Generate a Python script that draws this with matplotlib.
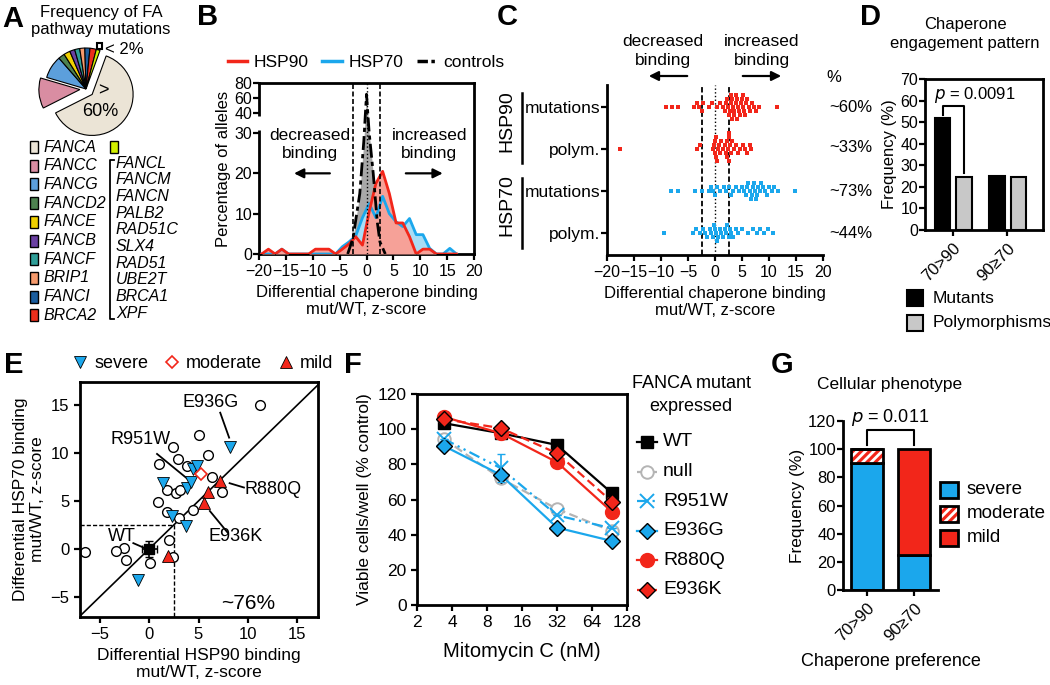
import numpy as np
import matplotlib
matplotlib.use('Agg')
import matplotlib.pyplot as plt
from matplotlib.patches import Rectangle
from matplotlib.lines import Line2D
from matplotlib.ticker import LogLocator, NullFormatter

plt.rcParams['font.family'] = ['Liberation Sans', 'DejaVu Sans']
plt.rcParams['font.size'] = 11
plt.rcParams['axes.linewidth'] = 2
for a in ('xtick', 'ytick'):
    plt.rcParams[a + '.major.width'] = 1.6
    plt.rcParams[a + '.major.size'] = 4
    plt.rcParams[a + '.labelsize'] = 11.5
plt.rcParams['hatch.linewidth'] = 2.0

# ---------------- data ----------------
# A: pie of FA pathway mutations
a_genes = ['FANCA', 'FANCC', 'FANCG', 'FANCD2', 'FANCE', 'FANCB', 'FANCF', 'BRIP1', 'FANCI', 'BRCA2', 'other']
a_freq = [62, 12, 9, 2.5, 2.5, 2, 2, 2, 2, 2.5, 1.5]
a_colors = ['#ebe4d6', '#d98da2', '#5c9fdc', '#4d8250', '#f0d000', '#6a40a2',
            '#2f9e98', '#f59a6c', '#1a5d9e', '#ec2f1c', '#d2f000']
a_rare = ['FANCL', 'FANCM', 'FANCN', 'PALB2', 'RAD51C', 'SLX4', 'RAD51', 'UBE2T', 'BRCA1', 'XPF']

# B: distribution of differential binding
b_x = [-19.5, -18.25, -17, -15.75, -14.5, -13.25, -12, -10.75, -9.5, -8.25, -7, -5.75, -4.5,
       -3.25, -2, -0.75, 0.5, 1.75, 3, 4.25, 5.5, 6.75, 8, 9.25, 10.5, 11.75, 13, 14.25, 15.5, 16.75]
b_hsp90 = [0, 1.2, 0, 1.2, 0, 0, 0, 0, 1.2, 1.2, 1.2, 0, 1.2,
           2.5, 4.3, 2.2, 10.5, 17.5, 20.5, 15, 7.7, 7.7, 4.3, 0, 1.2, 1.2, 0, 0, 0, 0]
b_hsp70 = [0, 0, 0, 1.2, 0, 0, 0, 0, 0, 0, 0, 0, 1.8,
           3, 4.5, 9, 12.5, 9, 14.3, 10, 8, 6.8, 8.8, 4.8, 4.8, 1.4, 0, 0, 1.4, 0]
b_ctrl_x = [-3.5, -2.5, -1.25, -0.5, 0, 0.5, 1.25, 2, 2.5, 3.5]
b_ctrl = [0, 4, 15, 28, 65, 30, 20, 8, 3, 0]

# C: per-allele z-scores
c_rows = ['mutations', 'polym.', 'mutations', 'polym.']
c_h90_mut = [-9.1, -8.0, -6.9, -3.8, -3.3, -2.9, -2.5, -2.2, -1.2, -0.5, 0.3, 1.0, 1.5, 1.8, 2.0,
             2.2, 2.4, 2.6, 2.7, 2.9, 3.0, 3.1, 3.2, 3.3, 3.5, 3.6, 3.8, 3.9, 4.0, 4.1, 4.3, 4.5,
             4.6, 4.8, 5.0, 5.1, 5.2, 5.4, 5.6, 5.8, 6.0, 6.3, 6.5, 6.8, 7.2, 7.6, 8.2, 11.5]
c_h90_pol = [-17.6, -3.4, -2.7, -0.4, -0.2, 0.0, 0.0, 0.1, 0.2, 0.3, 0.5, 0.8, 1.0, 1.2, 1.5, 1.8,
             2.0, 2.2, 2.3, 2.4, 2.5, 2.5, 2.6, 2.7, 2.9, 3.2, 3.5, 3.9, 4.3, 4.7, 5.2, 5.6, 6.0, 6.4, 6.6]
c_h70_mut = [-8.1, -6.8, -3.7, -2.5, -1.2, -0.7, -0.3, 0.0, 0.4, 0.9, 1.6, 2.1, 2.5, 2.9, 3.4, 3.9,
             4.5, 5.0, 5.4, 5.8, 6.0, 6.2, 6.4, 6.6, 6.8, 7.0, 7.2, 7.4, 7.6, 7.8, 8.0, 8.3, 8.6,
             8.9, 9.2, 9.6, 10.0, 10.5, 11.0, 11.7, 14.8]
c_h70_pol = [-9.5, -4.0, -3.5, -2.8, -2.2, -1.8, -1.4, -1.0, -0.7, -0.4, -0.2, 0.0, 0.2, 0.4, 0.6,
             0.9, 1.2, 1.5, 1.8, 2.1, 2.3, 2.5, 2.7, 3.0, 3.4, 3.8, 4.2, 5.0, 6.2, 7.0, 7.7, 8.3,
             9.0, 9.8, 10.8]
c_pct = ['~60%', '~33%', '~73%', '~44%']

# D: chaperone engagement pattern
d_cats = ['70>90', '90\u226570']
d_mutants = [52, 25]
d_polys = [24.5, 24.5]

# E: HSP90 vs HSP70 binding
e_circ_x = [1.0, 2.45, 2.95, 3.86, 5.03, 6.0, 6.38, 7.4, 11.2, 1.78, 2.72, 3.1, 0.94, 1.78, 3.05,
            4.4, 2.05, 2.38, 0.07, -2.3, -2.5, -3.4, -6.5]
e_circ_y = [8.9, 10.66, 9.4, 8.64, 11.85, 9.8, 7.5, 5.9, 15.0, 6.13, 5.78, 6.13, 4.88, 3.83, 3.24,
            4.04, 0.9, -0.87, -1.43, -1.2, 0.07, -0.24, -0.35]
e_sev_x = [8.15, 1.44, 3.86, 4.26, 4.46, 4.87, 2.28, 3.72, -1.14]
e_sev_y = [10.66, 6.83, 6.38, 6.97, 8.3, 8.64, 3.38, 2.37, -3.28]
e_mod_x = [5.27]
e_mod_y = [7.77]
e_mild_x = [7.2, 6.0, 5.57, 1.95]
e_mild_y = [7.07, 5.92, 4.81, -0.7]
e_wt = (0, 0, 0.75, 0.8)

# F: MMC survival
f_dose = [3.4, 10.5, 32, 95]
f_wt = [103.4, 97.7, 91, 63.6]
f_null = [94.5, 72, 54.6, 42]
f_r951w = [94.5, 77.8, 51, 43.6]
f_r951w_err = [0, 8, 0, 0]
f_e936g = [90.5, 74, 44, 36.4]
f_r880q = [107, 97.7, 81.2, 53]
f_e936k = [105.7, 100.6, 86.3, 58.8]

# G: cellular phenotype
g_cats = ['70>90', '90\u226570']
g_severe = [90, 25]
g_moderate = [10, 0]
g_mild = [0, 75]

# ---------------- helpers ----------------
W, H = 1050, 685
fig = plt.figure(figsize=(W / 100, H / 100), dpi=100)


def box(x0, y0, x1, y1):
    return [x0 / W, 1 - y1 / H, (x1 - x0) / W, (y1 - y0) / H]


def fx(x):
    return x / W


def fy(y):
    return 1 - y / H


def letter(x, y, s):
    fig.text(fx(x), fy(y), s, fontsize=21, fontweight='bold', ha='center', va='center')


RED = '#f2261a'
BLUE = '#1ba7ec'

# ---------------- A ----------------
letter(13, 19, 'A')
fig.text(fx(101), fy(21), 'Frequency of FA\npathway mutations', ha='center', va='center',
         fontsize=12, linespacing=1.15)
axA = fig.add_axes(box(36, 39, 136, 139))
explode = [0.2, 0.15] + [0] * 9
axA.pie(a_freq, colors=a_colors, explode=explode, startangle=70, counterclock=False,
        wedgeprops=dict(edgecolor='black', linewidth=0.8))
axA.set_xlim(-1.22, 1.22)
axA.set_ylim(-1.22, 1.22)
axA.text(0.42, -0.05, '>', ha='center', va='center', fontsize=13, zorder=10)
axA.text(0.35, -0.55, '60%', ha='center', va='center', fontsize=13, zorder=10)
fig.patches.append(Rectangle((fx(97), fy(49)), 5 / W, 6 / H, transform=fig.transFigure,
                             facecolor='white', edgecolor='black', lw=1.5))
fig.text(fx(105), fy(50), '< 2%', ha='left', va='center', fontsize=12)
for i, g in enumerate(a_genes[:-1]):
    y = 147 + i * 18.7
    fig.patches.append(Rectangle((fx(30), fy(y + 6)), 8 / W, 12 / H, transform=fig.transFigure,
                                 facecolor=a_colors[i], edgecolor='black', lw=1))
    fig.text(fx(44), fy(y), g, style='italic', ha='left', va='center', fontsize=11.5)
fig.patches.append(Rectangle((fx(110), fy(153)), 8 / W, 12 / H, transform=fig.transFigure,
                             facecolor=a_colors[-1], edgecolor='black', lw=1))
fig.lines.append(Line2D([fx(114), fx(110), fx(110), fx(114)], [fy(160), fy(160), fy(319), fy(319)],
                        transform=fig.transFigure, color='black', lw=1.3))
for i, g in enumerate(a_rare):
    fig.text(fx(116), fy(163 + i * 16.7), g, style='italic', ha='left', va='center', fontsize=11.5)

# ---------------- B ----------------
letter(208, 17, 'B')


def fwd(y):
    y = np.asarray(y, float)
    return np.where(y <= 30, y, np.where(y <= 40, 30 + (y - 30) * 0.496, 34.96 + (y - 40) * 0.186))


def inv(t):
    t = np.asarray(t, float)
    return np.where(t <= 30, t, np.where(t <= 34.96, 30 + (t - 30) / 0.496, 40 + (t - 34.96) / 0.186))


axB = fig.add_axes(box(259, 83, 474, 254))
axB.set_yscale('function', functions=(fwd, inv))
axB.fill_between(b_ctrl_x, b_ctrl, color='#a8a8a8', lw=0, zorder=1)
axB.fill_between(b_x, b_hsp70, color='#a8ddf6', lw=0, zorder=2)
axB.fill_between(b_x, b_hsp90, color='#f6a198', lw=0, zorder=3)
axB.plot(b_x, b_hsp70, color=BLUE, lw=2, zorder=4, label='HSP70')
axB.plot(b_x, b_hsp90, color=RED, lw=2, zorder=5, label='HSP90')
axB.plot(b_ctrl_x, b_ctrl, color='black', lw=2, dashes=(5, 1.5, 1.5, 1.5), zorder=6, label='controls')
for xv in (-2.5, 2.5):
    axB.axvline(xv, color='black', ls='--', lw=1.2, dashes=(3, 1.5), zorder=7)
axB.axvline(0, color='black', ls=':', lw=1, zorder=7)
axB.set_xlim(-20, 20)
axB.set_ylim(0, 80)
axB.set_xticks(range(-20, 21, 5))
axB.set_yticks([0, 10, 20, 30, 40, 60, 80])
axB.set_yticklabels(['0', '10', '20', '30', '40', '60', '80'])
axB.tick_params(axis='y', pad=1)
axB.plot([0, 0], [31.5, 38.5], color='white', lw=5, transform=axB.get_yaxis_transform(),
         clip_on=False, zorder=10, solid_capstyle='butt')
axB.text(-10.5, 27.2, 'decreased\nbinding', ha='center', va='center', fontsize=12.5, linespacing=1.3)
axB.text(11.7, 27.2, 'increased\nbinding', ha='center', va='center', fontsize=12.5, linespacing=1.3)
axB.annotate('', xy=(-14, 20), xytext=(-6.3, 20),
             arrowprops=dict(arrowstyle='-|>', color='black', lw=1.6, mutation_scale=14))
axB.annotate('', xy=(14.7, 20), xytext=(6.8, 20),
             arrowprops=dict(arrowstyle='-|>', color='black', lw=1.6, mutation_scale=14))
axB.set_ylabel('Percentage of alleles', fontsize=12, labelpad=2)
axB.set_xlabel('Differential chaperone binding\nmut/WT, z-score', fontsize=12, labelpad=4)
hB = [Line2D([], [], color=RED, lw=2.5), Line2D([], [], color=BLUE, lw=2.5),
      Line2D([], [], color='black', lw=2.5, dashes=(3, 1, 1, 1))]
axB.legend(hB, ['HSP90', 'HSP70', 'controls'], loc='center', bbox_to_anchor=(fx(366), fy(62)),
           bbox_transform=fig.transFigure, ncol=3, frameon=False, handlelength=1.1,
           handletextpad=0.4, columnspacing=0.8, fontsize=12.5, borderpad=0)

# ---------------- C ----------------
letter(507, 17, 'C')


def swarm(vals, dx=0.85, dy=0.095):
    order = np.argsort(vals)
    placed = []
    offs = np.zeros(len(vals))
    for idx in order:
        v = vals[idx]
        k = 0
        done = False
        while not done:
            cands = [0.0] if k == 0 else [k * dy, -k * dy]
            for c in cands:
                if all(abs(v - pv) >= dx or abs(c - po) >= dy * 0.99 for pv, po in placed):
                    placed.append((v, c))
                    offs[idx] = c
                    done = True
                    break
            k += 1
    return offs


axC = fig.add_axes(box(607, 85, 823, 255))
c_sets = [(c_h90_mut, RED, 3), (c_h90_pol, RED, 2), (c_h70_mut, BLUE, 1), (c_h70_pol, BLUE, 0)]
for vals, col, yy in c_sets:
    vals = np.array(vals)
    axC.scatter(vals, yy + swarm(vals), marker='s', s=7, color=col, lw=0, zorder=3)
for xv in (-2.5, 2.5):
    axC.axvline(xv, color='black', ls='--', lw=1.3, dashes=(3, 1.5))
axC.axvline(0, color='black', ls=':', lw=1)
axC.set_xlim(-20, 20)
axC.set_ylim(-0.52, 3.52)
axC.set_xticks(range(-20, 21, 5))
axC.set_yticks([3, 2, 1, 0])
axC.set_yticklabels(c_rows, fontsize=12.5)
axC.tick_params(axis='y', length=4, pad=1)
axC.spines['top'].set_visible(False)
axC.spines['right'].set_visible(False)
axC.set_xlabel('Differential chaperone binding\nmut/WT, z-score', fontsize=12, labelpad=4)
fig.text(fx(507), fy(121), 'HSP90', rotation=90, ha='center', va='center', fontsize=14)
fig.text(fx(507), fy(205), 'HSP70', rotation=90, ha='center', va='center', fontsize=14)
fig.lines.append(Line2D([fx(522)] * 2, [fy(93), fy(163)], transform=fig.transFigure, color='black', lw=1.8))
fig.lines.append(Line2D([fx(522)] * 2, [fy(178), fy(248)], transform=fig.transFigure, color='black', lw=1.8))
fig.text(fx(663), fy(51), 'decreased\nbinding', ha='center', va='center', fontsize=12.5, linespacing=1.3)
fig.text(fx(762), fy(51), 'increased\nbinding', ha='center', va='center', fontsize=12.5, linespacing=1.3)
axC.annotate('', xy=(fx(646), fy(76)), xytext=(fx(690), fy(76)), xycoords='figure fraction',
             textcoords='figure fraction',
             arrowprops=dict(arrowstyle='-|>', color='black', lw=1.6, mutation_scale=14))
axC.annotate('', xy=(fx(784), fy(76)), xytext=(fx(740), fy(76)), xycoords='figure fraction',
             textcoords='figure fraction',
             arrowprops=dict(arrowstyle='-|>', color='black', lw=1.6, mutation_scale=14))
fig.text(fx(826), fy(78), '%', ha='left', va='center', fontsize=12)
for yy, s in zip([107, 148, 192, 233], c_pct):
    fig.text(fx(829), fy(yy), s, ha='left', va='center', fontsize=12)

# ---------------- D ----------------
letter(871, 17, 'D')
fig.text(fx(965), fy(34), 'Chaperone\nengagement pattern', ha='center', va='center', fontsize=12,
         linespacing=1.3)
axD = fig.add_axes(box(925, 79, 1043, 230))
xd = np.arange(len(d_cats))
axD.bar(xd - 0.19, d_mutants, width=0.28, color='black', edgecolor='black', lw=1.5)
axD.bar(xd + 0.2, d_polys, width=0.28, color='#c8c8c8', edgecolor='black', lw=1.5)
axD.plot([-0.19, -0.19, 0.2, 0.2], [53.5, 57.5, 57.5, 26.5], color='black', lw=1.5)
axD.text(-0.36, 62.5, '$p$ = 0.0091', ha='left', va='center', fontsize=12)
axD.set_xlim(-0.52, 1.66)
axD.set_ylim(0, 70)
axD.set_yticks(range(0, 71, 10))
axD.set_xticks(xd)
axD.set_xticklabels(d_cats, rotation=45, ha='right', rotation_mode='anchor', fontsize=12)
axD.tick_params(axis='y', pad=1)
axD.set_ylabel('Frequency (%)', fontsize=12, labelpad=2)
for y, col, lab in [(298, 'black', 'Mutants'), (323, '#c8c8c8', 'Polymorphisms')]:
    fig.patches.append(Rectangle((fx(907), fy(y + 8)), 16 / W, 16 / H, transform=fig.transFigure,
                                 facecolor=col, edgecolor='black', lw=1.5))
    fig.text(fx(933), fy(y), lab, ha='left', va='center', fontsize=12.5)

# ---------------- E ----------------
letter(14, 365, 'E')
axE = fig.add_axes(box(80, 382, 318, 617))
axE.plot([-8, 18], [-8, 18], color='black', lw=1.2, zorder=1)
axE.plot([-7, 2.5, 2.5], [2.5, 2.5, -7.1], color='black', lw=1, ls='--', dashes=(3, 1.5), zorder=1)
axE.plot(e_circ_x, e_circ_y, 'o', mfc='white', mec='black', ms=7, mew=1, zorder=2)
axE.plot(e_sev_x, e_sev_y, 'v', mfc=BLUE, mec='black', ms=9, mew=0.6, zorder=3)
axE.plot(e_mod_x, e_mod_y, 'D', mfc='white', mec=RED, ms=6, mew=1.2, zorder=3)
axE.plot(e_mild_x, e_mild_y, '^', mfc=RED, mec='black', ms=9, mew=0.6, zorder=3)
axE.errorbar(e_wt[0], e_wt[1], xerr=e_wt[2], yerr=e_wt[3], fmt='s', color='black', ms=7,
             capsize=3, lw=1.2, zorder=4)
for lab, tx, ty, p0, p1 in [('E936G', 6.2, 15.3, (7.2, 14.2), (8.1, 11.6)),
                            ('R951W', -0.9, 11.4, (0.8, 9.9), (3.95, 7.25)),
                            ('R880Q', 12.5, 6.2, (8.15, 6.85), (9.6, 6.4)),
                            ('E936K', 8.8, 1.3, (6.15, 3.95), (7.95, 1.7)),
                            ('WT', -2.8, 1.3, (-1.6, 0.6), (-0.6, 0.15))]:
    axE.text(tx, ty, lab, ha='center', va='center', fontsize=13)
    axE.plot([p0[0], p1[0]], [p0[1], p1[1]], color='black', lw=1.3)
axE.text(10, -5.7, '~76%', ha='center', va='center', fontsize=15)
axE.set_xlim(-7, 17.1)
axE.set_ylim(-7.1, 17.4)
axE.set_xticks([-5, 0, 5, 10, 15])
axE.set_yticks([-5, 0, 5, 10, 15])
axE.tick_params(labelsize=12)
axE.set_xlabel('Differential HSP90 binding\nmut/WT, z-score', fontsize=12.5, labelpad=4)
axE.set_ylabel('Differential HSP70 binding\nmut/WT, z-score', fontsize=12.5, labelpad=4)
hE = [Line2D([], [], ls='', marker='v', mfc=BLUE, mec='black', ms=8, mew=0.6),
      Line2D([], [], ls='', marker='D', mfc='white', mec=RED, ms=6, mew=1.2),
      Line2D([], [], ls='', marker='^', mfc=RED, mec='black', ms=8, mew=0.6)]
axE.legend(hE, ['severe', 'moderate', 'mild'], loc='center', bbox_to_anchor=(fx(203), fy(364)),
           bbox_transform=fig.transFigure, ncol=3, frameon=False, handlelength=0.8,
           handletextpad=0.4, columnspacing=0.9, fontsize=13, borderpad=0)

# ---------------- F ----------------
letter(353, 365, 'F')
axF = fig.add_axes(box(417, 394, 627, 605))
GRAY = '#b4b4b4'
f_styles = [
    ('WT', f_wt, dict(color='black', marker='s', ms=9, mfc='black', mec='black', ls='-')),
    ('null', f_null, dict(color=GRAY, marker='o', ms=9, mfc='white', mec=GRAY, mew=1.4, ls='--', dashes=(4, 2))),
    ('R951W', f_r951w, dict(color=BLUE, marker='x', ms=10, mew=1.4, ls='-.', dashes=(5, 2, 1, 2, 1, 2))),
    ('E936G', f_e936g, dict(color=BLUE, marker='D', ms=8, mfc=BLUE, mec='black', mew=1, ls='-')),
    ('R880Q', f_r880q, dict(color=RED, marker='o', ms=10, mfc=RED, mec=RED, ls='-')),
    ('E936K', f_e936k, dict(color=RED, marker='D', ms=8, mfc=RED, mec='black', mew=1, ls='--', dashes=(4, 2))),
]
for lab, ys, st in f_styles:
    axF.plot(f_dose, ys, lw=1.6, **st)
axF.errorbar(f_dose, f_r951w, yerr=f_r951w_err, fmt='none', ecolor=BLUE, capsize=3, lw=1.2)
axF.set_xscale('log', base=2)
axF.set_xlim(2, 128)
axF.set_ylim(0, 120)
axF.set_xticks([2, 4, 8, 16, 32, 64, 128])
axF.set_xticklabels(['2', '4', '8', '16', '32', '64', '128'], fontsize=12.5)
axF.xaxis.set_minor_locator(LogLocator(base=2, subs=np.arange(1.125, 2, 0.125)))
axF.xaxis.set_minor_formatter(NullFormatter())
axF.tick_params(axis='x', which='minor', length=3, width=1)
axF.set_yticks(range(0, 121, 20))
axF.tick_params(axis='y', labelsize=12.5)
axF.set_xlabel('Mitomycin C (nM)', fontsize=14.5, labelpad=8)
axF.set_ylabel('Viable cells/well (% control)', fontsize=12.5, labelpad=4)
fig.text(fx(691), fy(395), 'FANCA mutant\nexpressed', ha='center', va='center', fontsize=13,
         linespacing=1.4)
for i, (lab, ys, st) in enumerate(f_styles):
    y = fy(442 + i * 29.6)
    fig.lines.append(Line2D([fx(637), fx(647), fx(657)], [y, y, y], transform=fig.transFigure,
                            lw=1.6, markevery=[1], **st))
    fig.text(fx(663), y, lab, ha='left', va='center', fontsize=14)

# ---------------- G ----------------
letter(782, 365, 'G')
fig.text(fx(890), fy(385), 'Cellular phenotype', ha='center', va='center', fontsize=12.5)
axG = fig.add_axes(box(843, 421, 938, 590))
xg = np.arange(len(g_cats))
bw = 0.66
sev = np.array(g_severe)
mod = np.array(g_moderate)
mild = np.array(g_mild)
axG.bar(xg, sev, width=bw, color=BLUE, edgecolor='black', lw=2)
axG.bar(xg, mod, width=bw, bottom=sev, color=RED, edgecolor='white', hatch='////', lw=0)
axG.bar(xg, mod, width=bw, bottom=sev, color='none', edgecolor='black', lw=2)
axG.bar(xg, mild, width=bw, bottom=sev + mod, color=RED, edgecolor='black', lw=2)
axG.plot([0, 0, 1, 1], [103, 113.6, 113.6, 103], color='black', lw=1.5, clip_on=False)
axG.text(0.5, 122.5, '$p$ = 0.011', ha='center', va='center', fontsize=13)
axG.set_xlim(-0.51, 1.51)
axG.set_ylim(0, 120)
axG.set_yticks(range(0, 121, 20))
axG.set_xticks(xg)
axG.set_xticklabels(g_cats, rotation=45, ha='right', rotation_mode='anchor', fontsize=12)
axG.tick_params(axis='y', pad=1, labelsize=12)
axG.spines['top'].set_visible(False)
axG.spines['right'].set_visible(False)
axG.set_ylabel('Frequency (%)', fontsize=12.5, labelpad=2)
axG.set_xlabel('Chaperone preference', fontsize=13, labelpad=6)
for y, col, hatch, lab in [(490, BLUE, None, 'severe'), (514, RED, '////', 'moderate'),
                           (538, RED, None, 'mild')]:
    if hatch:
        fig.patches.append(Rectangle((fx(940), fy(y + 8)), 18 / W, 16 / H, transform=fig.transFigure,
                                     facecolor=col, edgecolor='white', hatch=hatch, lw=0))
        fig.patches.append(Rectangle((fx(940), fy(y + 8)), 18 / W, 16 / H, transform=fig.transFigure,
                                     facecolor='none', edgecolor='black', lw=2))
    else:
        fig.patches.append(Rectangle((fx(940), fy(y + 8)), 18 / W, 16 / H, transform=fig.transFigure,
                                     facecolor=col, edgecolor='black', lw=2))
    fig.text(fx(967), fy(y), lab, ha='left', va='center', fontsize=13.5)

fig.savefig('out.png', dpi=100)
